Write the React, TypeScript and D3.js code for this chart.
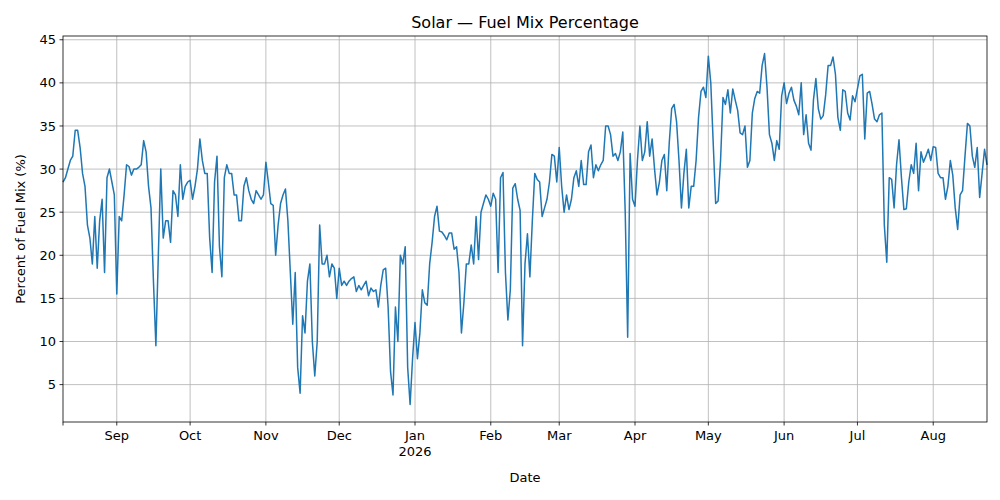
import { useEffect, useRef } from 'react'
import * as d3 from 'd3'

const startDate = new Date(2025, 7, 10)

// daily values, Aug 10 2025 .. Aug 23 2026
const aug25 = [28.5, 29, 30, 31, 31.5, 34.5, 34.5, 32.5, 29.5, 28, 23.5, 22, 19, 24.5, 18.5, 24, 26.5, 18, 29, 30, 28.5, 27]
const sep25 = [15.5, 24.5, 24, 27, 30.5, 30.3, 29.3, 30, 30, 30.2, 30.5, 33.3, 32, 28, 25.5, 17, 9.5, 20, 30, 22, 24, 24, 21.5, 27.5, 27, 24.5, 30.5, 26.5, 28, 28.5]
const oct25 = [28.7, 26.5, 28, 30, 33.5, 31, 29.5, 29.5, 22, 18, 28.5, 31.5, 21, 17.5, 29, 30.5, 29.5, 29.5, 27, 27, 24, 24, 28, 29, 27.5, 26.5, 26, 27.5, 27, 26.5, 27]
const nov25 = [30.8, 28.5, 26, 25.8, 20, 23.5, 26, 27, 27.7, 24, 18, 12, 18, 7, 4, 13, 11, 17, 19, 10, 6, 10, 23.5, 19, 19, 20, 17.5, 19, 18.5, 15]
const dec25 = [18.5, 16.5, 17, 16.5, 17, 17.3, 17.5, 15.8, 16.5, 16, 16.5, 17, 15.3, 16.2, 15.8, 16, 14, 16.5, 18.3, 18.5, 14, 6.5, 3.8, 14, 10, 20, 19, 21, 7, 2.7, 8]
const jan26 = [12.2, 8, 11, 16, 14.5, 14.2, 19, 21.5, 24.5, 25.7, 22.8, 22.7, 22.3, 21.8, 22.6, 22.6, 20.7, 21, 18, 11, 14.5, 19, 19, 21.2, 19, 24.5, 19.5, 25, 26, 27, 26.5]
const feb26 = [25.7, 27.2, 26.5, 18, 29, 29.6, 18, 12.5, 16, 27.8, 28.3, 26.5, 25.2, 9.5, 19, 22.5, 17.5, 24, 29.5, 28.8, 28.5, 24.5, 25.5, 26.5, 28.5, 31.7, 31.5, 28.5]
const mar26 = [32.5, 28, 25, 27, 25.3, 26.5, 29, 29.8, 28, 31, 28.2, 28.2, 32, 32.8, 29, 30.5, 29.8, 30.5, 31, 35, 35, 34, 31.5, 31.8, 31, 32, 34.3, 25, 10.5, 31.8, 26.5]
const apr26 = [25.7, 31, 35, 31, 32, 35.5, 31.5, 33.5, 30, 27, 28.5, 31, 31.7, 27.5, 33, 37, 37.5, 35.5, 31, 25.5, 29.5, 32.3, 25.5, 28, 28, 31, 36, 39, 39.5, 38.3]
const may26 = [43.1, 40, 33, 26, 26.3, 31, 38.3, 37.5, 39.2, 36.5, 39.3, 38, 36.8, 34.2, 34, 35, 30.2, 31, 36.5, 38.2, 39, 38.8, 42, 43.4, 39.5, 34, 33, 31, 33.3, 32.3, 38.5]
const jun26 = [40, 37.6, 38.8, 39.5, 38, 37.3, 36.3, 40, 34, 36.3, 33, 32.2, 38, 40.5, 37, 35.8, 36.2, 38.6, 42, 42, 43, 41, 36, 34.5, 39.2, 39, 36.5, 35.7, 38.5, 37.8]
const jul26 = [39.3, 40.8, 41, 33.5, 38.8, 39, 37.5, 35.8, 35.5, 36.3, 36.5, 23.5, 19.2, 29, 28.8, 25.5, 30.5, 33.4, 29, 25.3, 25.4, 28.5, 30.5, 29.5, 33, 27.5, 32, 30.8, 31.5, 32.3, 31]
const aug26 = [32.6, 32.5, 29.5, 29, 29, 26.5, 28, 31, 29.3, 25.5, 23, 27, 27.5, 31.5, 35.3, 35, 31.5, 30.2, 32.5, 26.7, 29.5, 32.3, 30.5]

const solarPct = [...aug25, ...sep25, ...oct25, ...nov25, ...dec25, ...jan26, ...feb26, ...mar26, ...apr26, ...may26, ...jun26, ...jul26, ...aug26]
const yTicks = [5, 10, 15, 20, 25, 30, 35, 40, 45]
const monthTicks = d3.timeMonth.range(new Date(2025, 8, 1), new Date(2026, 8, 1))

export default function App() {
  const ref = useRef<SVGSVGElement>(null)

  useEffect(() => {
    if (!ref.current) return
    const width = 1000
    const height = 500
    const margin = { top: 36, right: 13, bottom: 78, left: 63 }
    const w = width - margin.left - margin.right
    const h = height - margin.top - margin.bottom

    const data = solarPct.map((v, i) => ({ date: d3.timeDay.offset(startDate, i), v }))

    const svg = d3.select(ref.current)
    svg.selectAll('*').remove()
    const g = svg.append('g').attr('transform', `translate(${margin.left},${margin.top})`)

    const x = d3.scaleTime()
      .domain([startDate, d3.timeDay.offset(startDate, solarPct.length - 1)])
      .range([0, w])
    const yMin = d3.min(solarPct)!
    const yMax = d3.max(solarPct)!
    const pad = (yMax - yMin) * 0.05
    const y = d3.scaleLinear().domain([yMin - pad, yMax + pad]).range([h, 0])

    // grid
    g.append('g').selectAll('line').data(monthTicks).join('line')
      .attr('x1', (d) => x(d)).attr('x2', (d) => x(d))
      .attr('y1', 0).attr('y2', h)
      .attr('stroke', '#b0b0b0').attr('stroke-width', 0.8)
    g.append('g').selectAll('line').data(yTicks).join('line')
      .attr('x1', 0).attr('x2', w)
      .attr('y1', (d) => y(d)).attr('y2', (d) => y(d))
      .attr('stroke', '#b0b0b0').attr('stroke-width', 0.8)

    const line = d3.line<{ date: Date; v: number }>()
      .x((d) => x(d.date))
      .y((d) => y(d.v))
    g.append('path').datum(data)
      .attr('fill', 'none')
      .attr('stroke', '#1f77b4')
      .attr('stroke-width', 1.5)
      .attr('stroke-linejoin', 'round')
      .attr('d', line)

    g.append('rect').attr('width', w).attr('height', h)
      .attr('fill', 'none').attr('stroke', '#000').attr('stroke-width', 0.8)

    const font = 'DejaVu Sans, sans-serif'

    // x axis
    const xAxis = g.append('g').attr('transform', `translate(0,${h})`)
      .style('font-family', font)
    const xt = xAxis.selectAll('g').data(monthTicks).join('g')
      .attr('transform', (d) => `translate(${x(d)},0)`)
    xt.append('line').attr('y2', 3.5).attr('stroke', '#000').attr('stroke-width', 0.8)
    xt.append('text').attr('y', 18).attr('text-anchor', 'middle')
      .style('font-size', '13px').text((d) => d3.timeFormat('%b')(d))
    xt.filter((d) => d.getMonth() === 0).append('text')
      .attr('y', 34).attr('text-anchor', 'middle')
      .style('font-size', '13px').text((d) => String(d.getFullYear()))
    xAxis.append('line').attr('x1', 0).attr('x2', 0).attr('y2', 3.5)
      .attr('stroke', '#000').attr('stroke-width', 0.8)

    // y axis
    const yAxis = g.append('g').style('font-family', font)
    const yt = yAxis.selectAll('g').data(yTicks).join('g')
      .attr('transform', (d) => `translate(0,${y(d)})`)
    yt.append('line').attr('x2', -3.5).attr('stroke', '#000').attr('stroke-width', 0.8)
    yt.append('text').attr('x', -7).attr('dy', '0.35em').attr('text-anchor', 'end')
      .style('font-size', '13px').text((d) => d)

    svg.append('text')
      .attr('x', margin.left + w / 2).attr('y', 28)
      .attr('text-anchor', 'middle')
      .style('font-family', font).style('font-size', '16px')
      .text('Solar \u2014 Fuel Mix Percentage')

    svg.append('text')
      .attr('x', margin.left + w / 2).attr('y', 482)
      .attr('text-anchor', 'middle')
      .style('font-family', font).style('font-size', '13px')
      .text('Date')

    svg.append('text')
      .attr('transform', `translate(25,${margin.top + h / 2}) rotate(-90)`)
      .attr('text-anchor', 'middle')
      .style('font-family', font).style('font-size', '13px')
      .text('Percent of Fuel Mix (%)')
  }, [])

  return (
    <svg ref={ref} width={1000} height={500}
      style={{ position: 'absolute', left: 0, top: 0, background: '#fff' }} />
  )
}
